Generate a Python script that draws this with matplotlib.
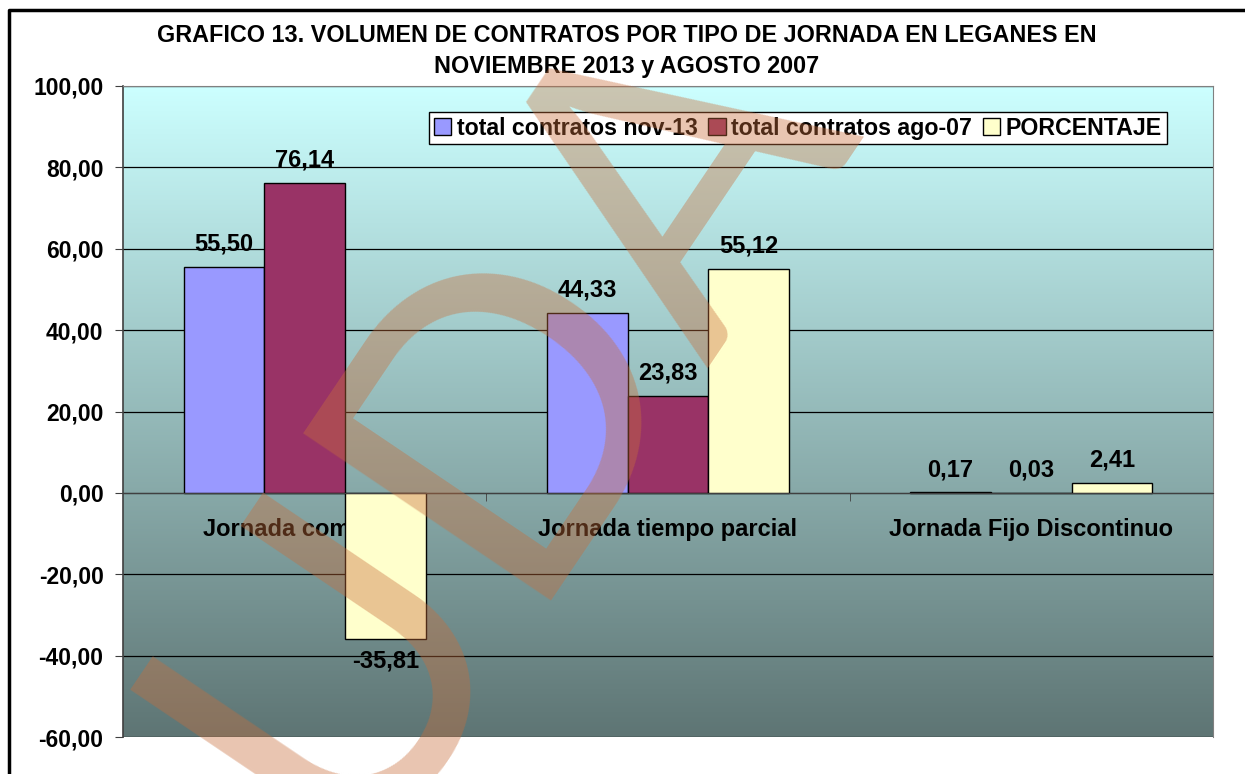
import numpy as np
import matplotlib.pyplot as plt
from matplotlib.lines import Line2D

categorias = ["Jornada completa", "Jornada tiempo parcial", "Jornada Fijo Discontinuo"]
nov13 = [55.50, 44.33, 0.17]
ago07 = [76.14, 23.83, 0.03]
porcentaje = [-35.81, 55.12, 2.41]
series = ["total contratos nov-13", "total contratos ago-07", "PORCENTAJE"]
colores = ["#9999FF", "#993366", "#FFFFCC"]
yticks = [-60, -40, -20, 0, 20, 40, 60, 80, 100]

plt.rcParams['font.family'] = ['Liberation Sans', 'DejaVu Sans']
plt.rcParams['font.weight'] = 'bold'

def coma(v):
    return f"{v:.2f}".replace('.', ',')

fig = plt.figure(figsize=(12.45, 7.74), dpi=100)
ax = fig.add_axes([123/1245, 1-737/774, 1090/1245, 651/774])

# fondo degradado del area de trazado
grad = np.linspace(0, 1, 256).reshape(-1, 1, 1)
top = np.array([204, 255, 255]) / 255
bot = np.array([94, 117, 116]) / 255
img = top + (bot - top) * grad
ax.imshow(img, extent=(-0.5, 2.5, -60, 100), aspect='auto', origin='upper', zorder=0)

x = np.arange(len(categorias))
w = 2/9
for i, (vals, nombre, c) in enumerate(zip([nov13, ago07, porcentaje], series, colores)):
    bars = ax.bar(x + (i-1)*w, vals, w, color=c, edgecolor='black', linewidth=1,
                  label=nombre, zorder=2)
    ax.bar_label(bars, labels=[coma(v) for v in vals], padding=8, fontsize=17,
                 fontweight='bold')

ax.set_xlim(-0.5, 2.5)
ax.set_ylim(-60, 100)
ax.set_axisbelow(True)
ax.yaxis.grid(True, color='black', linewidth=0.9)

ax.set_yticks(yticks, [coma(v) for v in yticks])
ax.tick_params(axis='y', length=6, color='#404040', pad=8, labelsize=16.5)

ax.set_xticks(x, categorias)
ax.set_xticks([0.5, 1.5, 2.5], minor=True)
ax.tick_params(axis='x', which='major', length=0, pad=18, labelsize=17)
ax.tick_params(axis='x', which='minor', length=6, direction='out', color='#404040')

ax.spines['bottom'].set_position(('data', 0))
ax.spines['bottom'].set_color('#404040')
ax.spines['left'].set_color('#404040')
ax.spines['left'].set_linewidth(1.2)
ax.spines['top'].set_color('#808080')
ax.spines['right'].set_color('#808080')

leg = ax.legend(loc='upper left', bbox_to_anchor=(429/1245, 1-112/774),
                bbox_transform=fig.transFigure, ncol=3, fancybox=False,
                edgecolor='black', framealpha=1, fontsize=16.7, handlelength=0.75,
                handleheight=0.75, handletextpad=0.25, columnspacing=0.45,
                borderpad=0.2, borderaxespad=0)
leg.get_frame().set_linewidth(1)

fig.text(627/1245, 1-35/774, "GRAFICO 13. VOLUMEN DE CONTRATOS POR TIPO DE JORNADA EN LEGANES EN",
         ha='center', va='center', fontsize=16.8, fontweight='bold')
fig.text(627/1245, 1-66/774, "NOVIEMBRE 2013 y AGOSTO 2007",
         ha='center', va='center', fontsize=16.8, fontweight='bold')

# marco del grafico
fig.add_artist(Line2D([9/1245, 9/1245, 1], [0, 1-10/774, 1-10/774],
                      transform=fig.transFigure, color='black', linewidth=2.5))

# marca de agua
fig.text(500/1245, 1-415/774, "UDA", rotation=56, rotation_mode='anchor',
         ha='center', va='center', fontsize=300, fontweight='normal',
         family='Lato', color=(200/255, 110/255, 60/255), alpha=0.4, zorder=10)

fig.savefig('out.png', dpi=100)
